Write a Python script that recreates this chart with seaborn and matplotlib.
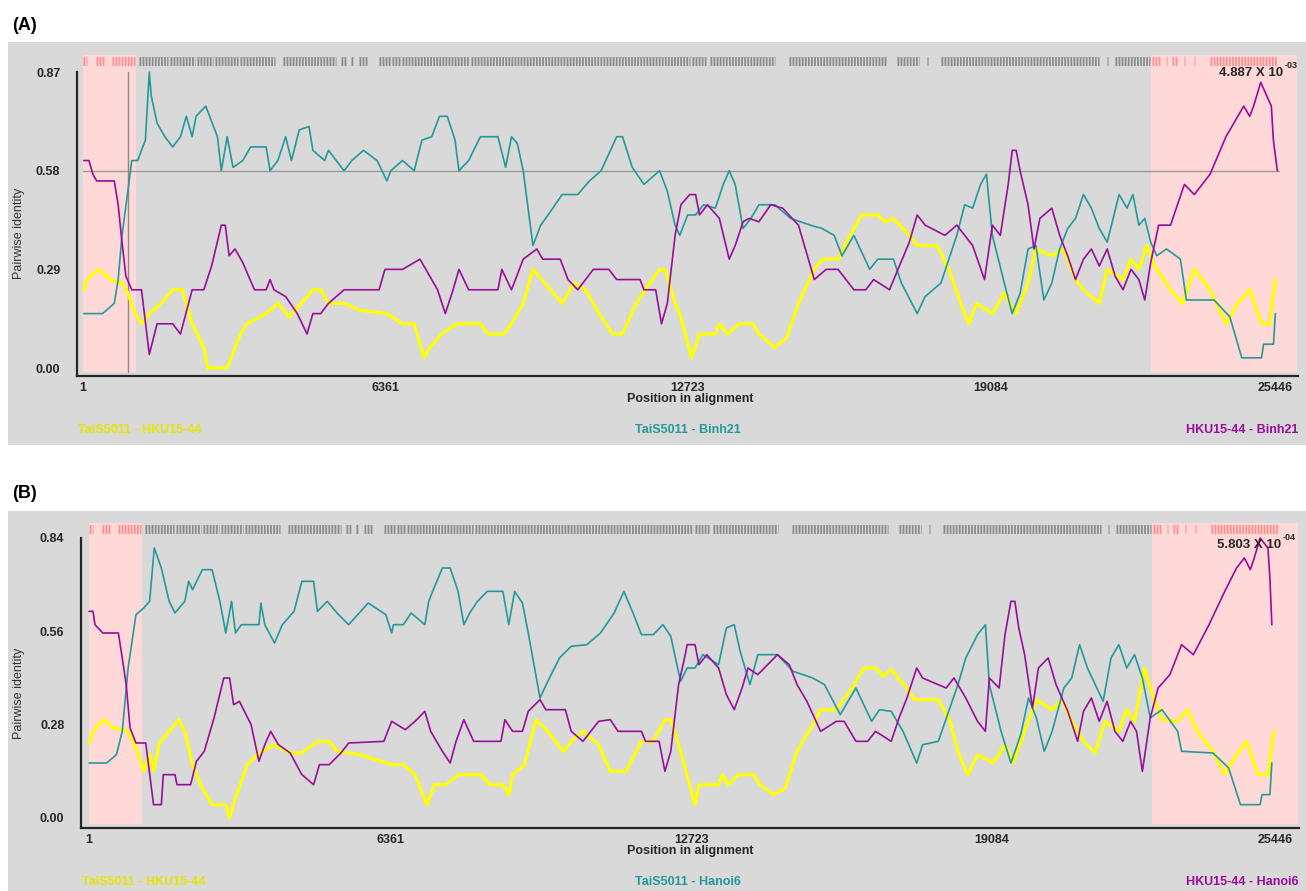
import matplotlib
matplotlib.use('Agg')
import matplotlib.pyplot as plt
from matplotlib.patches import Rectangle
import seaborn as sns

W, H = 1306, 891

# ---------------- panel A : TaiS5011 / HKU15-44 / Binh21 ----------------
a_teal_pos = [14, 408, 654, 736, 817, 940, 1022, 1145, 1227, 1309, 1391, 1432, 1555, 1719, 1883, 2047, 2170, 2293, 2375, 2579,
              2825, 2907, 3030, 3153, 3358, 3522, 3850, 3932, 4096, 4260, 4382, 4546, 4751, 4833, 5079, 5161, 5489, 5653, 5898, 6185,
              6390, 6472, 6718, 6964, 7128, 7333, 7497, 7661, 7824, 7906, 8111, 8357, 8726, 8889, 9012, 9135, 9258, 9463, 9627, 9832,
              10078, 10406, 10651, 10897, 11225, 11348, 11553, 11799, 12127, 12290, 12454, 12552, 12719, 12885, 13052, 13301, 13468, 13593,
              13718, 13884, 14051, 14217, 14551, 14884, 15300, 15550, 15800, 15966, 16216, 16549, 16716, 17049, 17215, 17548, 17715, 18048,
              18381, 18547, 18714, 18881, 19005, 19130, 19380, 19547, 19713, 19880, 20046, 20213, 20380, 20546, 20713, 20879, 21046, 21213,
              21379, 21546, 21795, 21962, 22087, 22211, 22336, 22461, 22587, 22794, 23086, 23211, 23794, 24127, 24377, 24793, 24835, 25044, 25084]
a_teal_val = [.16, .16, .19, .26, .39, .52, .61, .61, .64, .67, .87, .80, .72, .68, .65, .68, .74, .68, .74, .77,
              .68, .58, .68, .59, .61, .65, .65, .58, .61, .68, .61, .70, .71, .64, .61, .64, .58, .61, .64, .61,
              .55, .58, .61, .58, .67, .68, .74, .74, .67, .58, .61, .68, .68, .59, .68, .66, .58, .36, .42, .46,
              .51, .51, .55, .58, .68, .68, .59, .54, .58, .52, .42, .39, .45, .45, .48, .47, .54, .58,
              .54, .41, .44, .48, .48, .44, .42, .41, .39, .33, .39, .29, .32, .32, .25, .16, .21, .25,
              .39, .48, .47, .54, .57, .39, .25, .16, .22, .35, .36, .20, .25, .35, .41, .44, .51, .47,
              .41, .37, .51, .47, .51, .42, .44, .37, .33, .35, .32, .20, .20, .15, .03, .03, .07, .07, .16]

a_purple_pos = [14, 121, 203, 285, 654, 736, 817, 899, 1022, 1227, 1391, 1555, 1883, 2047, 2293, 2539, 2702, 2907, 2989, 3071,
                3194, 3358, 3604, 3850, 3932, 4014, 4260, 4505, 4710, 4833, 4997, 5161, 5489, 6226, 6349, 6718, 6964, 7087, 7210, 7456,
                7619, 7783, 7906, 8111, 8726, 8808, 9012, 9258, 9545, 9668, 10037, 10201, 10406, 10733, 11061, 11225, 11717, 11799, 12045, 12168,
                12290, 12454, 12577, 12760, 12885, 12968, 13135, 13385, 13593, 13718, 13884, 14010, 14217, 14467, 14717, 15050, 15383, 15633,
                15883, 16216, 16466, 16632, 16965, 17174, 17382, 17548, 17715, 18131, 18381, 18714, 18964, 19130, 19297, 19463, 19547, 19630,
                19713, 19880, 20005, 20130, 20380, 20546, 20713, 20879, 21046, 21213, 21379, 21546, 21712, 21879, 22046, 22211, 22336, 22461,
                22628, 22878, 23170, 23378, 23711, 24044, 24294, 24418, 24543, 24626, 24776, 24999, 25042, 25125]
a_purple_val = [.61, .61, .57, .55, .55, .48, .37, .27, .23, .23, .04, .13, .13, .10, .23, .23, .30, .42, .42, .33,
                .35, .31, .23, .23, .26, .23, .21, .16, .10, .16, .16, .19, .23, .23, .29, .29, .31, .32, .29, .23,
                .16, .23, .29, .23, .23, .29, .23, .32, .35, .32, .32, .26, .23, .29, .29, .26, .26, .23, .23, .13,
                .19, .39, .48, .51, .51, .45, .48, .44, .32, .36, .43, .44, .43, .48, .47, .42, .26, .29,
                .29, .23, .23, .26, .23, .30, .37, .45, .42, .39, .42, .36, .26, .42, .39, .54, .64, .64,
                .58, .48, .35, .44, .47, .39, .33, .26, .32, .35, .30, .35, .27, .23, .29, .26, .20, .31,
                .42, .42, .54, .51, .57, .68, .74, .77, .74, .77, .84, .77, .67, .58]

a_yellow_pos = [14, 80, 326, 572, 817, 940, 1063, 1227, 1391, 1637, 1883, 2088, 2293, 2539, 2620, 3030, 3276, 3440, 3850, 4096,
                4341, 4587, 4833, 4997, 5161, 5489, 5817, 6390, 6718, 6964, 7169, 7292, 7538, 7865, 8357, 8521, 8849, 9012, 9258, 9463,
                9832, 10078, 10324, 10570, 10856, 11143, 11348, 11635, 11922, 12127, 12250, 12454, 12552, 12802, 12968, 13301, 13385, 13551,
                13801, 14093, 14217, 14551, 14800, 15050, 15383, 15550, 15883, 16133, 16383, 16716, 16882, 17049, 17382, 17548, 17965, 18214,
                18464, 18631, 18797, 19130, 19380, 19630, 19880, 20046, 20380, 20629, 20879, 21046, 21379, 21546, 21879, 22046, 22211, 22378,
                22545, 22878, 23128, 23378, 23711, 24044, 24294, 24543, 24793, 24959, 25084]
a_yellow_val = [.23, .26, .29, .26, .25, .22, .17, .13, .16, .19, .23, .23, .13, .06, .00, .00, .09, .13, .16, .19,
                .15, .19, .23, .23, .19, .19, .17, .16, .13, .13, .03, .06, .10, .13, .13, .10, .10, .13, .19, .29,
                .23, .19, .25, .23, .16, .10, .10, .19, .25, .29, .29, .19, .16, .03, .10, .10, .13, .10,
                .13, .13, .10, .06, .09, .19, .29, .32, .32, .39, .45, .45, .43, .44, .39, .36, .36, .29,
                .19, .13, .19, .16, .22, .16, .25, .35, .33, .35, .26, .23, .19, .29, .26, .32, .29, .36,
                .30, .23, .19, .29, .23, .13, .19, .23, .13, .13, .26]

# ---------------- panel B : TaiS5011 / HKU15-44 / Hanoi6 ----------------
b_teal_pos = [1, 372, 579, 702, 826, 991, 1156, 1280, 1379, 1528, 1693, 1816, 2023, 2105, 2188, 2394, 2600, 2765, 2889, 3012,
              3095, 3219, 3590, 3631, 3714, 3920, 4085, 4332, 4497, 4745, 4827, 5034, 5240, 5487, 5900, 6271, 6395, 6436, 6642, 6807,
              7096, 7179, 7261, 7467, 7632, 7798, 7921, 8045, 8210, 8416, 8746, 8870, 8994, 9159, 9282, 9530, 9695, 9942, 10190, 10520,
              10809, 11097, 11304, 11510, 11675, 11923, 12129, 12294, 12500, 12640, 12806, 12972, 13304, 13469, 13635, 13760, 13967, 14133,
              14548, 14880, 15294, 15543, 15875, 16206, 16538, 16704, 16952, 17201, 17491, 17616, 17948, 18362, 18528, 18777, 18943, 19026,
              19274, 19482, 19689, 19855, 20021, 20187, 20353, 20601, 20767, 20933, 21099, 21265, 21431, 21597, 21763, 21929, 22095, 22260,
              22426, 22675, 23006, 23089, 23752, 24084, 24333, 24748, 24789, 24955, 24996]
b_teal_val = [.165, .165, .19, .26, .45, .61, .63, .65, .81, .75, .65, .615, .65, .71, .685, .745, .745, .65, .555, .65,
              .555, .58, .58, .645, .58, .525, .58, .62, .71, .71, .62, .65, .615, .58, .645, .61, .555, .58, .58, .615,
              .58, .65, .68, .75, .75, .68, .58, .615, .65, .68, .68, .58, .68, .645, .555, .36, .41, .48, .515, .52,
              .555, .615, .68, .61, .55, .55, .58, .545, .41, .45, .45, .49, .46, .57, .58, .50, .40, .49,
              .49, .44, .42, .40, .31, .39, .29, .325, .32, .26, .165, .22, .23, .40, .48, .55, .58, .40,
              .26, .165, .25, .36, .30, .20, .26, .39, .42, .52, .45, .40, .35, .48, .52, .45, .49, .42,
              .30, .325, .26, .20, .195, .15, .04, .04, .07, .07, .165]

b_purple_pos = [1, 84, 125, 290, 620, 702, 785, 867, 991, 1198, 1363, 1528, 1569, 1816, 1858, 2146, 2270, 2435, 2641, 2847,
                2971, 3054, 3178, 3425, 3590, 3714, 3838, 4002, 4250, 4497, 4745, 4869, 5075, 5322, 5487, 6230, 6395, 6684, 6890, 7096,
                7220, 7467, 7632, 7756, 7921, 8128, 8705, 8788, 8952, 9159, 9282, 9530, 9654, 10066, 10190, 10438, 10768, 11015, 11180, 11675,
                11758, 12047, 12170, 12294, 12459, 12599, 12640, 12806, 12889, 13055, 13304, 13469, 13635, 13801, 13925, 14133, 14548, 14797,
                14963, 15170, 15460, 15792, 15958, 16206, 16455, 16621, 16952, 17118, 17284, 17491, 17616, 18113, 18279, 18528, 18777, 18943,
                19026, 19233, 19357, 19482, 19565, 19648, 19772, 19938, 20063, 20270, 20436, 20684, 20892, 21016, 21182, 21348, 21514, 21680,
                21846, 22011, 22136, 22260, 22426, 22592, 22841, 23089, 23338, 23669, 24001, 24250, 24416, 24541, 24624, 24748, 24914, 24955, 24996]
b_purple_val = [.62, .62, .58, .555, .555, .48, .40, .27, .225, .225, .04, .04, .13, .13, .10, .10, .17, .20, .30, .42,
                .42, .34, .35, .28, .17, .22, .26, .22, .195, .13, .10, .16, .16, .195, .225, .23, .29, .265, .29, .32,
                .26, .20, .165, .23, .295, .23, .23, .295, .26, .26, .32, .355, .325, .325, .26, .23, .29, .295, .26, .26,
                .23, .23, .14, .20, .40, .49, .52, .52, .46, .49, .45, .37, .325, .39, .45, .43, .49, .46,
                .40, .35, .26, .29, .29, .23, .23, .26, .23, .30, .36, .45, .42, .39, .42, .36, .29, .26,
                .42, .39, .55, .65, .65, .57, .49, .33, .45, .48, .40, .32, .23, .32, .36, .29, .35, .26,
                .23, .29, .26, .14, .30, .39, .43, .52, .49, .58, .68, .75, .78, .745, .78, .84, .81, .72, .58]

b_yellow_pos = [1, 84, 290, 537, 826, 991, 1156, 1280, 1363, 1486, 1693, 1899, 2023, 2188, 2353, 2600, 2889, 2971, 3095, 3342,
                3590, 3920, 4250, 4497, 4827, 5075, 5240, 5735, 6395, 6642, 6890, 7137, 7302, 7550, 7798, 8293, 8458, 8746, 8870, 8952,
                9200, 9447, 9695, 10025, 10190, 10438, 10768, 11015, 11345, 11675, 11923, 12170, 12294, 12500, 12806, 12889, 13304, 13386,
                13511, 13718, 14050, 14174, 14465, 14713, 14962, 15335, 15460, 15792, 16123, 16372, 16621, 16787, 16952, 17284, 17450, 17948,
                18196, 18362, 18570, 18777, 19108, 19357, 19523, 19772, 20021, 20353, 20560, 20767, 21016, 21265, 21472, 21763, 21929, 22095,
                22302, 22426, 22675, 23006, 23213, 23421, 23752, 24001, 24250, 24458, 24707, 24914, 25038]
b_yellow_val = [.225, .26, .295, .27, .26, .21, .14, .19, .14, .225, .26, .295, .26, .16, .10, .04, .04, .00, .06, .16,
                .195, .22, .195, .195, .23, .23, .20, .19, .16, .16, .13, .04, .10, .10, .13, .13, .10, .10, .07, .13,
                .16, .295, .26, .20, .23, .26, .22, .14, .14, .23, .23, .295, .295, .20, .04, .10, .10, .13,
                .10, .13, .13, .10, .07, .09, .20, .29, .325, .325, .39, .45, .45, .425, .445, .39, .355, .355,
                .29, .20, .13, .19, .165, .22, .165, .26, .355, .325, .355, .29, .23, .195, .29, .26, .325, .29,
                .45, .39, .295, .29, .325, .26, .20, .13, .19, .23, .13, .13, .26]

# informative sites (blocks of alignment positions) and recombination region
site_gray = [(1179, 1790), (1832, 2359), (2401, 2738), (2780, 3264), (3306, 4044), (4212, 5328), (5433, 5560), (5644, 5686),
             (5813, 5981), (6234, 6465), (6508, 6676), (6718, 8108), (8150, 12762), (12804, 13100), (13184, 14553),
             (14847, 16890), (17122, 17585), (17753, 17775), (18048, 21376), (21544, 21565), (21713, 22450)]
site_pink = [(0, 84), (274, 442), (611, 1095), (22492, 22660), (22787, 22808), (22913, 23040), (23166, 23187),
             (23377, 23398), (23714, 25125)]
region_left = (0, 1110)
region_right = (22470, 25540)

x_ticks = [1, 6361, 12723, 19084, 25446]
a_yticks = [0.00, 0.29, 0.58, 0.87]
b_yticks = [0.00, 0.28, 0.56, 0.84]

TEAL = '#24999a'
PURPLE = '#990d99'
YELLOW = '#ffff00'
BG = '#d9d9d9'
PINK = '#ffd8d8'
DARK = '#262626'

sns.set_style('white')
plt.rcParams['font.family'] = ['Liberation Sans', 'DejaVu Sans']

fig = plt.figure(figsize=(W / 100, H / 100), dpi=100)
fig.patch.set_facecolor('white')


def fx(px):
    return px / W


def fy(py):
    return 1 - py / H


def draw_panel(box, axbox, xlim, ylim, yticks, series, pair_labels, note, exp, note_xy, hline=None, vline=None):
    # gray window behind the panel
    x0, y0, x1, y1 = box
    fig.patches.append(Rectangle((fx(x0), fy(y1)), fx(x1 - x0), (y1 - y0) / H,
                                 transform=fig.transFigure, facecolor=BG, edgecolor='none', zorder=-5))
    l, t, r, b = axbox
    ax = fig.add_axes([fx(l), fy(b), fx(r - l), (b - t) / H])
    ax.set_facecolor('none')
    ax.set_xlim(*xlim)
    ax.set_ylim(*ylim)

    for span in (region_left, region_right):
        ax.axvspan(span[0], span[1], ymin=0.012, ymax=0.985, color=PINK, lw=0, zorder=0)

    trans = ax.get_xaxis_transform()
    for blocks, col in ((site_gray, '#8c8c8c'), (site_pink, '#ff9090')):
        for s, e in blocks:
            ax.hlines(0.965, s, e, transform=trans, colors=col, lw=6.5,
                      linestyles=(0, (0.2, 0.14)), zorder=1)

    if hline is not None:
        ax.plot([1, 25170], [hline, hline], color='#9a9a9a', lw=1.0, zorder=1)
    if vline is not None:
        ax.plot([vline, vline], [-0.012, yticks[-1]], color='#8a8a8a', lw=1.0, zorder=1)

    for (pos, val), col, lw in zip(series, (YELLOW, TEAL, PURPLE), (2.3, 1.2, 1.2)):
        sns.lineplot(x=pos, y=val, ax=ax, color=col, lw=lw, estimator=None, sort=False, zorder=3)

    ax.set_xticks(x_ticks)
    ax.set_xticklabels([str(v) for v in x_ticks])
    ax.set_yticks(yticks)
    ax.set_yticklabels(['%.2f' % v for v in yticks])
    ax.tick_params(direction='in', length=4, width=1.2, color=DARK, labelsize=9, labelcolor=DARK)
    ax.tick_params(axis='y', pad=12)
    ax.tick_params(axis='x', pad=4)
    for lab in ax.get_xticklabels() + ax.get_yticklabels():
        lab.set_fontweight('bold')
    ax.get_xticklabels()[-1].set_horizontalalignment('right')
    for side in ('top', 'right'):
        ax.spines[side].set_visible(False)
    for side in ('left', 'bottom'):
        ax.spines[side].set_color(DARK)
        ax.spines[side].set_linewidth(1.6)
    ax.spines['left'].set_bounds(ylim[0], yticks[-1])
    ax.set_xlabel('')
    ax.set_ylabel('')

    # axis titles and pair labels
    fig.text(fx(690), fy(b + 23), 'Position in alignment', ha='center', va='center',
             fontsize=9, fontweight='bold', color=DARK)
    fig.text(fx(19), fy((t + b) / 2 + 20), 'Pairwise identity', ha='center', va='center',
             rotation=90, fontsize=9, color='#333333')
    ly = b + 54
    fig.text(fx(l + 1), fy(ly), pair_labels[0], ha='left', va='center', fontsize=9,
             fontweight='bold', color='#e6e600')
    fig.text(fx(688), fy(ly), pair_labels[1], ha='center', va='center', fontsize=9,
             fontweight='bold', color=TEAL)
    fig.text(fx(1298), fy(ly), pair_labels[2], ha='right', va='center', fontsize=9,
             fontweight='bold', color=PURPLE)

    nx, ny = note_xy
    fig.text(fx(nx), fy(ny), note, ha='right', va='center', fontsize=9.5, fontweight='bold', color=DARK)
    fig.text(fx(nx + 2), fy(ny - 8), exp, ha='left', va='center', fontsize=6.5, fontweight='bold', color=DARK)
    return ax


draw_panel((8, 42, 1306, 445), (77, 50, 1298, 376), (-130, 25560), (-0.0235, 0.935), a_yticks,
           [(a_yellow_pos, a_yellow_val), (a_teal_pos, a_teal_val), (a_purple_pos, a_purple_val)],
           ['TaiS5011 - HKU15-44', 'TaiS5011 - Binh21', 'HKU15-44 - Binh21'],
           '4.887 X 10', '-03', (1283, 73), hline=0.58, vline=945)

draw_panel((8, 511, 1306, 891), (81, 518, 1299, 828), (-170, 25570), (-0.03, 0.90), b_yticks,
           [(b_yellow_pos, b_yellow_val), (b_teal_pos, b_teal_val), (b_purple_pos, b_purple_val)],
           ['TaiS5011 - HKU15-44', 'TaiS5011 - Hanoi6', 'HKU15-44 - Hanoi6'],
           '5.803 X 10', '-04', (1281, 545))

fig.text(fx(12), fy(26), '(A)', ha='left', va='center', fontsize=13, fontweight='bold', color='black')
fig.text(fx(12), fy(494), '(B)', ha='left', va='center', fontsize=13, fontweight='bold', color='black')

fig.savefig('out.png', dpi=100)
